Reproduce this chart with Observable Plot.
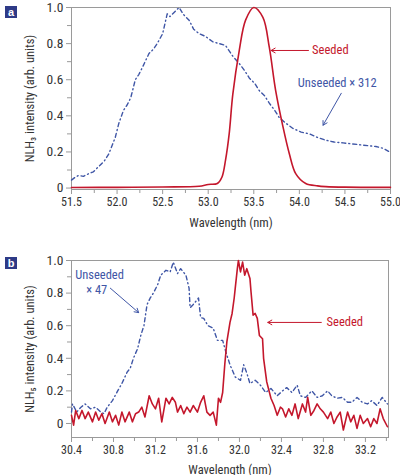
<!DOCTYPE html>
<html>
<head>
<meta charset="utf-8">
<script src="https://cdn.jsdelivr.net/npm/d3@7"></script>
<script src="https://cdn.jsdelivr.net/npm/@observablehq/plot@0.6"></script>
<style>
  body { margin: 0; background: #fff; }
  #wrap { position: relative; width: 400px; height: 475px; }
  .badge { position: absolute; left: 5px; width: 12px; height: 12px; background: #2e3a87; color: #fff;
           font: bold 11px "Liberation Sans", Arial, sans-serif; line-height: 12px; text-align: center; }
  svg { display: block; }
</style>
</head>
<body>
<div id="wrap">
  <div id="pa"></div>
  <div id="pb"></div>
  <div class="badge" style="top:6px">a</div>
  <div class="badge" style="top:257px">b</div>
</div>
<script>
// ---------- Panel a data ----------
const aUnseededX = [51.50,51.54,51.58,51.63,51.69,51.74,51.80,51.86,51.91,51.98,52.02,52.07,52.11,52.15,52.20,52.24,52.28,52.35,52.40,52.44,52.50,52.55,52.58,52.62,52.68,52.73,52.79,52.84,52.90,52.97,53.05,53.12,53.19,53.27,53.34,53.40,53.45,53.51,53.56,53.62,53.67,53.73,53.78,53.85,53.93,54.02,54.11,54.20,54.29,54.38,54.48,54.57,54.66,54.75,54.84,54.92,54.99];
const aUnseededY = [0.044,0.06,0.07,0.065,0.08,0.09,0.12,0.15,0.19,0.28,0.36,0.43,0.46,0.50,0.60,0.63,0.67,0.745,0.77,0.80,0.855,0.965,0.95,0.97,1.0,0.96,0.93,0.88,0.855,0.84,0.81,0.80,0.79,0.73,0.69,0.65,0.61,0.58,0.54,0.51,0.47,0.43,0.39,0.36,0.33,0.31,0.30,0.28,0.265,0.255,0.25,0.245,0.24,0.235,0.23,0.22,0.20];
const aSeededX = [51.50,52.00,52.50,52.90,53.00,53.10,53.15,53.19,53.23,53.27,53.34,53.41,53.50,53.60,53.67,53.74,53.82,53.89,53.96,54.07,54.20,54.29,54.50,55.00];
const aSeededY = [0.003,0.004,0.006,0.010,0.020,0.025,0.060,0.155,0.300,0.520,0.760,0.930,1.000,0.945,0.780,0.540,0.340,0.190,0.080,0.025,0.012,0.008,0.005,0.004];

const aXTicks = [51.5,52.0,52.5,53.0,53.5,54.0,54.5,55.0];
const aXMinor = [51.75,52.25,52.75,53.25,53.75,54.25,54.75];
const aYTicks = [0,0.2,0.4,0.6,0.8,1.0];
const aYMinor = [0.1,0.3,0.5,0.7,0.9];

// annotations (data coordinates)
const aSeededArrow = [{x1:54.10, y1:0.762, x2:53.69, y2:0.762}];
const aSeededLabel = [{x:54.14, y:0.762, t:"Seeded"}];
const aUnsArrow = [{x1:54.46, y1:0.525, x2:54.26, y2:0.348}];
const aUnsLabel = [{x:54.415, y:0.58, t:"Unseeded × 312"}];

// ---------- Panel b data ----------
const bUnseededX = [30.40,30.41,30.45,30.49,30.53,30.58,30.63,30.68,30.71,30.74,30.79,30.84,30.88,30.93,30.96,30.99,31.03,31.06,31.09,31.12,31.15,31.18,31.22,31.25,31.30,31.34,31.37,31.41,31.44,31.49,31.52,31.53,31.56,31.61,31.63,31.66,31.70,31.75,31.79,31.84,31.87,31.91,31.96,32.01,32.04,32.07,32.10,32.15,32.20,32.25,32.30,32.36,32.41,32.45,32.50,32.55,32.58,32.63,32.69,32.74,32.79,32.84,32.88,32.93,32.98,33.03,33.07,33.12,33.17,33.22,33.26,33.31,33.36,33.41];
const bUnseededY = [0.07,0.12,0.07,0.10,0.12,0.09,0.10,0.07,0.06,0.10,0.14,0.20,0.245,0.315,0.34,0.40,0.46,0.54,0.60,0.73,0.77,0.80,0.85,0.91,0.94,0.93,0.99,0.92,0.95,0.91,0.83,0.71,0.73,0.77,0.65,0.645,0.60,0.585,0.51,0.51,0.44,0.36,0.285,0.265,0.36,0.31,0.245,0.265,0.235,0.19,0.215,0.17,0.20,0.22,0.19,0.235,0.17,0.16,0.20,0.16,0.17,0.20,0.17,0.155,0.16,0.13,0.13,0.16,0.13,0.12,0.14,0.11,0.16,0.12];
const bSeededX = [30.40,30.42,30.44,30.47,30.50,30.53,30.56,30.60,30.63,30.66,30.69,30.72,30.76,30.79,30.82,30.85,30.88,30.91,30.95,30.98,31.01,31.04,31.07,31.10,31.14,31.17,31.20,31.23,31.26,31.30,31.33,31.36,31.39,31.41,31.44,31.47,31.50,31.53,31.56,31.60,31.63,31.66,31.69,31.72,31.75,31.78,31.80,31.82,31.84,31.86,31.88,31.91,31.93,31.95,31.96,31.98,31.99,32.01,32.03,32.05,32.07,32.10,32.11,32.13,32.15,32.17,32.19,32.22,32.23,32.26,32.30,32.33,32.36,32.39,32.41,32.44,32.47,32.50,32.53,32.56,32.60,32.63,32.65,32.68,32.71,32.74,32.77,32.80,32.84,32.87,32.90,32.93,32.96,32.99,33.03,33.06,33.09,33.12,33.15,33.18,33.22,33.25,33.28,33.31,33.34,33.37,33.41];
const bSeededY = [0.05,-0.01,0.08,0.03,0.08,0.03,0.07,0.01,0.07,0.02,0.06,0.00,0.07,0.01,0.05,-0.01,0.07,0.01,0.07,0.01,0.06,0.07,0.10,0.04,0.17,0.12,0.09,0.155,0.01,0.155,0.12,0.16,0.13,0.07,0.11,0.06,0.10,0.07,0.11,0.07,0.13,0.17,0.07,0.05,0.07,-0.01,0.155,0.13,0.19,0.36,0.50,0.62,0.675,0.77,0.83,0.95,1.00,0.93,0.99,0.91,0.95,0.89,0.81,0.665,0.675,0.645,0.54,0.52,0.40,0.255,0.155,0.11,0.05,0.10,0.09,0.04,0.09,0.05,0.12,0.03,0.12,0.07,0.16,0.05,0.08,0.12,0.09,0.07,0.03,0.07,0.00,0.04,0.07,-0.04,0.07,0.01,0.05,-0.03,0.05,0.00,0.03,-0.02,0.03,0.00,0.09,0.03,-0.02];

const bXTicks = [30.4,30.8,31.2,31.6,32.0,32.4,32.8,33.2];
const bXMinor = [30.6,31.0,31.4,31.8,32.2,32.6,33.0,33.4];
const bYTicks = [0,0.2,0.4,0.6,0.8,1.0];
const bYMinor = [0.1,0.3,0.5,0.7,0.9];

const bSeededArrow = [{x1:32.78, y1:0.62, x2:32.27, y2:0.62}];
const bSeededLabel = [{x:32.83, y:0.62, t:"Seeded"}];
const bUnsArrow = [{x1:30.77, y1:0.83, x2:31.04, y2:0.68}];
const bUnsLabel = [{x:30.667, y:0.91, t:"Unseeded"}, {x:30.64, y:0.82, t:"× 47"}];

// ---------- styling ----------
const FONT = "'Liberation Sans Narrow','Roboto Condensed','Arial Narrow','Liberation Sans',Arial,sans-serif";
const RED = "#c4172c";
const BLUE = "#3f56a6";
const GRAY = "#9a9a9a";
const fmtY = d => d === 0 ? "0" : d.toFixed(1);

function panel(o) {
  const unseeded = o.ux.map((x, i) => ({x, y: o.uy[i]}));
  const seeded = o.sx.map((x, i) => ({x, y: o.sy[i]}));
  return Plot.plot({
    width: 400, height: o.height,
    marginTop: o.mt, marginBottom: o.mb, marginLeft: 71, marginRight: o.mr,
    style: {fontFamily: FONT, fontSize: "12.5px", color: "#333", background: "#fff"},
    x: {domain: o.xd},
    y: {domain: o.yd},
    marks: [
      Plot.frame({stroke: GRAY}),
      Plot.axisX({ticks: o.xt, tickFormat: d => d.toFixed(1), tickSize: 5, tickPadding: 3, stroke: GRAY, fill: "#333",
                  fontSize: 12, label: null}),
      Plot.axisX({ticks: [], label: "Wavelength (nm)", labelAnchor: "center", labelArrow: "none", labelOffset: o.xlo, fill: "#333"}),
      Plot.axisX({ticks: o.xm, tickSize: 4, stroke: GRAY, text: null, label: null}),
      Plot.axisY({ticks: o.yt, tickFormat: fmtY, tickSize: 5, tickPadding: 3, stroke: GRAY, fill: "#333",
                  fontSize: 13.5, label: null}),
      Plot.axisY({ticks: [], label: o.ylab, labelAnchor: "center", labelArrow: "none", labelOffset: 46, fill: "#333"}),
      Plot.axisY({ticks: o.ym, tickSize: 4, stroke: GRAY, text: null, label: null}),
      Plot.line(unseeded, {x: "x", y: "y", stroke: BLUE, strokeWidth: 1.4, strokeDasharray: "4,3,1,3", curve: o.ucurve}),
      Plot.line(seeded, {x: "x", y: "y", stroke: RED, strokeWidth: 1.6, curve: o.scurve}),
      Plot.arrow(o.sa, {x1: "x1", y1: "y1", x2: "x2", y2: "y2", stroke: RED, strokeWidth: 1, headLength: 7, bend: 0}),
      Plot.arrow(o.ua, {x1: "x1", y1: "y1", x2: "x2", y2: "y2", stroke: BLUE, strokeWidth: 1, headLength: 7, bend: 0}),
      Plot.text(o.sl, {x: "x", y: "y", text: "t", fill: RED, textAnchor: "start", fontSize: 12.5}),
      Plot.text(o.ul, {x: "x", y: "y", text: "t", fill: BLUE, textAnchor: "middle", fontSize: 12.5})
    ]
  });
}

document.getElementById("pa").append(panel({
  height: 240, mt: 7, mb: 51, mr: 10, xd: [51.5, 55.0], yd: [-0.008, 1.0],
  xt: aXTicks, xm: aXMinor, yt: aYTicks, ym: aYMinor, xlo: 37,
  ylab: "NLH₃ intensity (arb. units)",
  ux: aUnseededX, uy: aUnseededY, sx: aSeededX, sy: aSeededY,
  ucurve: "linear", scurve: "catmull-rom",
  sa: aSeededArrow, ua: aUnsArrow, sl: aSeededLabel, ul: aUnsLabel
}));

document.getElementById("pb").append(panel({
  height: 235, mt: 20, mb: 38, mr: 12, xd: [30.4, 33.42], yd: [-0.086, 1.0],
  xt: bXTicks, xm: bXMinor, yt: bYTicks, ym: bYMinor, xlo: 36,
  ylab: "NLH₅ intensity (arb. units)",
  ux: bUnseededX, uy: bUnseededY, sx: bSeededX, sy: bSeededY,
  ucurve: "linear", scurve: "linear",
  sa: bSeededArrow, ua: bUnsArrow, sl: bSeededLabel, ul: bUnsLabel
}));
</script>
</body>
</html>
